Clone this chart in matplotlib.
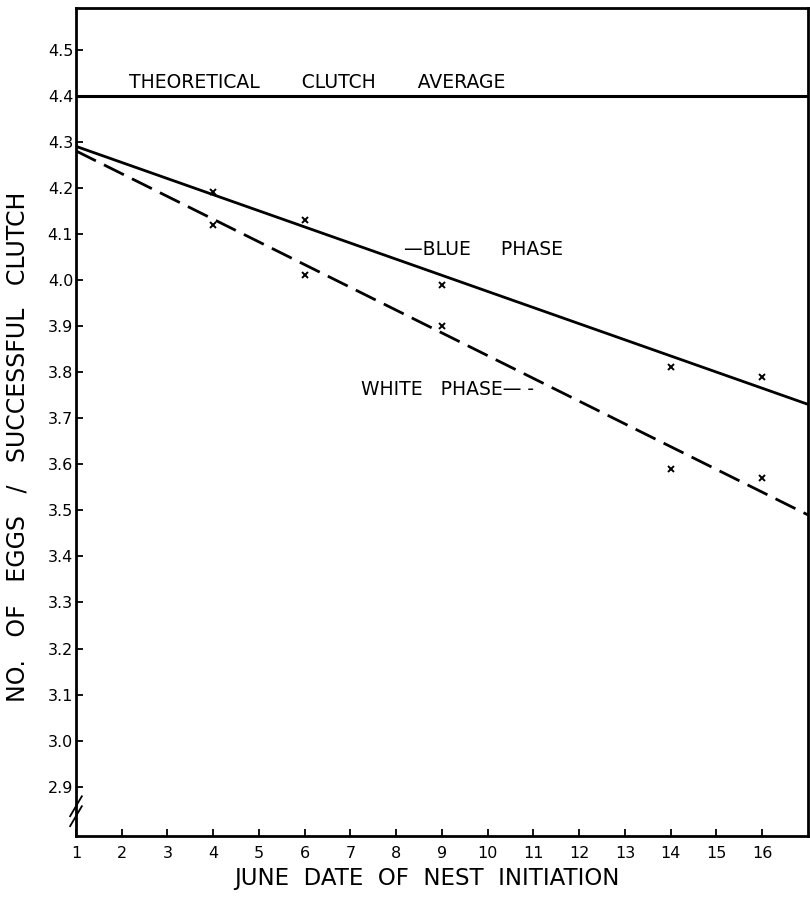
import matplotlib
matplotlib.use("Agg")
import matplotlib.pyplot as plt
import numpy as np

# Data
days = [4, 6, 9, 14, 16]
blue_obs = [4.19, 4.13, 3.99, 3.81, 3.79]
white_obs = [4.12, 4.01, 3.90, 3.59, 3.57]
blue_line_x = [1, 17]
blue_line_y = [4.29, 3.73]
white_line_x = [1, 17]
white_line_y = [4.28, 3.49]
theoretical = 4.40
xticks = list(range(1, 17))
yticks = [2.9, 3.0, 3.1, 3.2, 3.3, 3.4, 3.5, 3.6, 3.7, 3.8, 3.9, 4.0, 4.1, 4.2, 4.3, 4.4, 4.5]

plt.rcParams['font.family'] = ['DejaVu Sans']
plt.rcParams['lines.scale_dashes'] = False

fig = plt.figure(figsize=(8.1, 9.01), dpi=100)
ax = fig.add_axes([0.0938, 0.0721, 0.9037, 0.9189])

ax.axhline(theoretical, color='black', lw=2.2)
ax.plot(blue_line_x, blue_line_y, color='black', lw=2.0, solid_capstyle='butt')
ax.plot(white_line_x, white_line_y, color='black', lw=2.0, dashes=(16, 6.5))
ax.plot(days, blue_obs, 'x', color='black', ms=5, mew=1.4)
ax.plot(days, white_obs, 'x', color='black', ms=5, mew=1.4)

ax.text(2.15, 4.428, "THEORETICAL       CLUTCH       AVERAGE", fontsize=13.5, va='center', ha='left')
ax.text(8.18, 4.067, "—BLUE     PHASE", fontsize=13.5, va='center', ha='left')
ax.text(7.24, 3.762, "WHITE   PHASE— -", fontsize=13.5, va='center', ha='left')

ax.set_xlim(1, 17)
ax.set_ylim(2.793, 4.59)
ax.set_xticks(xticks)
ax.set_xticklabels([str(t) for t in xticks])
ax.set_yticks(yticks)
ax.set_yticklabels([f"{t:.1f}" for t in yticks])
ax.tick_params(axis='both', direction='in', length=5, width=1.3, labelsize=11.5)
ax.tick_params(axis='x', pad=7)
ax.tick_params(axis='y', pad=2)

for s in ax.spines.values():
    s.set_linewidth(2.0)

# axis break mark on y axis
for off in (-0.006, 0.006):
    ax.plot([-0.008, 0.008], [0.03 + off - 0.012, 0.03 + off + 0.012],
            transform=ax.transAxes, color='black', lw=1.3, clip_on=False)

ax.set_xlabel("JUNE  DATE  OF  NEST  INITIATION", fontsize=16.5)
ax.xaxis.set_label_coords(0.48, -0.037)
ax.set_ylabel("NO.   OF   EGGS   /   SUCCESSFUL   CLUTCH", fontsize=17)
ax.yaxis.set_label_coords(-0.064, 0.47)

fig.savefig("out.png", dpi=100)
